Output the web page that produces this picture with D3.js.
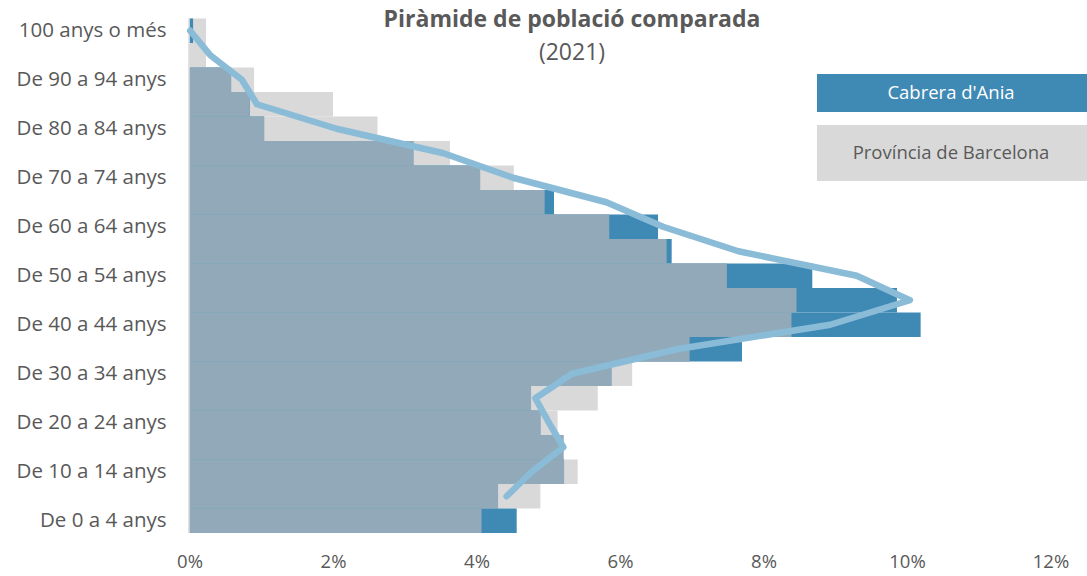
<!DOCTYPE html>
<html>
<head>
<meta charset="utf-8">
<script src="https://cdn.jsdelivr.net/npm/d3@7"></script>
<style>
  html, body { margin: 0; padding: 0; background: #fff; }
  svg { display: block; font-family: "Open Sans", sans-serif; }
</style>
</head>
<body>
<svg id="chart"></svg>
<script>
// grups d'edat, de dalt a baix
const grups = [
  "100 anys o més", "De 95 a 99 anys", "De 90 a 94 anys", "De 85 a 89 anys",
  "De 80 a 84 anys", "De 75 a 79 anys", "De 70 a 74 anys", "De 65 a 69 anys",
  "De 60 a 64 anys", "De 55 a 59 anys", "De 50 a 54 anys", "De 45 a 49 anys",
  "De 40 a 44 anys", "De 35 a 39 anys", "De 30 a 34 anys", "De 25 a 29 anys",
  "De 20 a 24 anys", "De 15 a 19 anys", "De 10 a 14 anys", "De 5 a 9 anys",
  "De 0 a 4 anys"
];

// % sobre el total
const cabrera = [0.05, 0, 0.58, 0.84, 1.04, 3.12, 4.05, 5.08, 6.53, 6.72, 8.68,
  9.86, 10.19, 7.70, 5.88, 4.76, 4.89, 5.21, 5.22, 4.30, 4.56];
const provincia = [0.23, 0.23, 0.90, 2.00, 2.62, 3.63, 4.52, 4.95, 5.85, 6.65, 7.49,
  8.46, 8.39, 6.97, 6.17, 5.69, 5.13, 5.21, 5.41, 4.89, 4.07];
// part comuna de les dues barres
const comu = [0, 0, 0.58, 0.84, 1.04, 3.12, 4.05, 4.95, 5.85, 6.65, 7.49,
  8.46, 8.39, 6.97, 5.88, 4.76, 4.89, 5.21, 5.22, 4.30, 4.07];
// línia
const linia = [0.01, 0.29, 0.73, 0.94, 2.05, 3.54, 4.51, 5.81, 6.60, 7.65, 9.30,
  10.04, 8.93, 6.79, 5.33, 4.82, 5.01, 5.21, 4.77, 4.42, null];

const xTicks = [0, 2, 4, 6, 8, 10, 12];
const series = ["Cabrera d'Ania", "Província de Barcelona"];

const width = 1087, height = 576;
const margin = {top: 18.5, right: 36.5, bottom: 43, left: 189.5};

const svg = d3.select("#chart")
  .attr("width", width)
  .attr("height", height);

const x = d3.scaleLinear()
  .domain([0, 12])
  .range([margin.left, width - margin.right]);

const y = d3.scaleBand()
  .domain(grups)
  .range([margin.top, height - margin.bottom])
  .padding(0);

const g = svg.append("g");

function barres(values, color) {
  g.append("g")
    .selectAll("rect")
    .data(grups)
    .enter().append("rect")
    .attr("x", x(0))
    .attr("y", d => y(d))
    .attr("width", (d, i) => Math.max(0, x(values[i]) - x(0)))
    .attr("height", y.bandwidth())
    .attr("fill", color);
}

barres(provincia, "#d9d9d9");
barres(cabrera, "#3f89b5");
barres(comu, "#91a9b8");

// eix vertical
g.append("line")
  .attr("x1", x(0) - 0.5).attr("x2", x(0) - 0.5)
  .attr("y1", margin.top).attr("y2", height - margin.bottom)
  .attr("stroke", "#d9d9d9")
  .attr("stroke-width", 1.5);

const line = d3.line()
  .defined(d => d != null)
  .x(d => x(d))
  .y((d, i) => y(grups[i]) + y.bandwidth() / 2);

g.append("path")
  .datum(linia)
  .attr("fill", "none")
  .attr("stroke", "#8abcd8")
  .attr("stroke-width", 6.5)
  .attr("stroke-linejoin", "round")
  .attr("stroke-linecap", "round")
  .attr("d", line);

// eixos
const xAxis = svg.append("g")
  .attr("transform", `translate(0,${height - margin.bottom})`)
  .call(d3.axisBottom(x).tickValues(xTicks).tickSize(0).tickFormat(d => d + "%"));
xAxis.select(".domain").remove();
xAxis.selectAll("text")
  .attr("dy", null)
  .attr("y", 35)
  .style("font-family", "Open Sans")
  .style("font-size", "18.5px")
  .attr("fill", "#595959");

const yAxis = svg.append("g")
  .attr("transform", `translate(${margin.left},0)`)
  .call(d3.axisLeft(y).tickValues(grups.filter((d, i) => i % 2 === 0)).tickSize(0));
yAxis.select(".domain").remove();
yAxis.selectAll("text")
  .attr("x", -23)
  .style("font-family", "Open Sans")
  .style("font-size", "20.5px")
  .attr("fill", "#595959");

// títol
svg.append("text")
  .attr("x", 572).attr("y", 27)
  .attr("text-anchor", "middle")
  .style("font-size", "23px")
  .style("font-weight", "bold")
  .attr("fill", "#595959")
  .text("Piràmide de població comparada");

svg.append("text")
  .attr("x", 572).attr("y", 60)
  .attr("text-anchor", "middle")
  .style("font-size", "23px")
  .attr("fill", "#595959")
  .text("(2021)");

// llegenda
const legend = [
  {name: series[0], fill: "#3f89b5", text: "#ffffff", y: 74, h: 38},
  {name: series[1], fill: "#d9d9d9", text: "#595959", y: 125, h: 56}
];
const lg = svg.append("g");
lg.selectAll("rect")
  .data(legend)
  .enter().append("rect")
  .attr("x", 817).attr("y", d => d.y)
  .attr("width", 270).attr("height", d => d.h)
  .attr("fill", d => d.fill);
lg.selectAll("text")
  .data(legend)
  .enter().append("text")
  .attr("x", 951)
  .attr("y", d => d.y + d.h / 2)
  .attr("dy", "0.35em")
  .attr("text-anchor", "middle")
  .style("font-size", "18.5px")
  .attr("fill", d => d.text)
  .text(d => d.name);
</script>
</body>
</html>
